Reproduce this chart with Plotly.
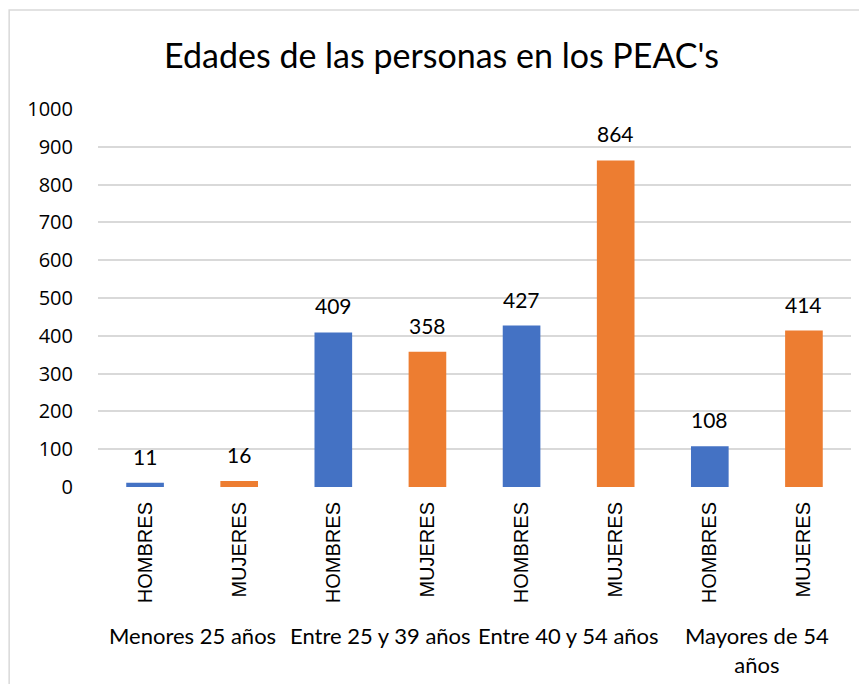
import plotly.graph_objects as go

groups = ["Menores 25 años", "Entre 25 y 39 años", "Entre 40 y 54 años", "Mayores de 54<br>años"]
sexes = ["HOMBRES", "MUJERES"]
hombres = [11, 409, 427, 108]
mujeres = [16, 358, 864, 414]
y_ticks = [0, 100, 200, 300, 400, 500, 600, 700, 800, 900, 1000]

BLUE = "#4472C4"
ORANGE = "#ED7D31"
CAL = "Lato, Liberation Sans, sans-serif"

xs, vals, cols, labels = [], [], [], []
for i in range(len(groups)):
    xs += [2 * i, 2 * i + 1]
    vals += [hombres[i], mujeres[i]]
    cols += [BLUE, ORANGE]
    labels += sexes

fig = go.Figure()
fig.add_trace(go.Bar(x=xs, y=vals, marker=dict(color=cols, line=dict(width=0)),
                     width=0.4, showlegend=False, hoverinfo="y"))

for x, v in zip(xs, vals):
    fig.add_annotation(x=x, y=v, xref="x", yref="y", text=str(v), showarrow=False,
                       yanchor="bottom", yshift=12,
                       font=dict(family=CAL, size=21, color="#000000"))

for i, g in enumerate(groups):
    fig.add_annotation(x=2 * i + 0.5, y=-0.43 if "<br>" in g else -0.394, xref="x", yref="paper",
                       text=g, showarrow=False, yanchor="middle",
                       font=dict(family=CAL, size=22, color="#000000"))

fig.add_shape(type="rect", xref="paper", yref="paper", x0=-0.118, x1=1.3, y0=-0.6, y1=1.262,
              line=dict(color="#D9D9D9", width=1.5), fillcolor="rgba(0,0,0,0)", layer="below")

fig.update_layout(
    width=867, height=684,
    margin=dict(l=90, r=24, t=101, b=205),
    paper_bgcolor="white", plot_bgcolor="white",
    title=dict(text="Edades de las personas en los PEAC's", x=0.5, xanchor="center",
               y=(684 - 48) / 684, yanchor="middle",
               font=dict(family=CAL, size=34, color="#000000")),
    xaxis=dict(tickmode="array", tickvals=xs, ticktext=labels, tickangle=-90,
               range=[-0.5, 7.5], showgrid=False, zeroline=False, showline=False,
               ticks="", ticklabelstandoff=10,
               tickfont=dict(family="Liberation Sans, Arial, sans-serif", size=20, color="#000000")),
    yaxis=dict(range=[0, 1000], tickvals=y_ticks, showgrid=True, gridcolor="#D9D9D9", gridwidth=1.5,
               zeroline=False, showline=False, ticks="", ticklabelstandoff=24,
               tickfont=dict(family="Open Sans, sans-serif", size=20, color="#000000")),
    bargap=0.6,
)

fig.write_html("out.html")
